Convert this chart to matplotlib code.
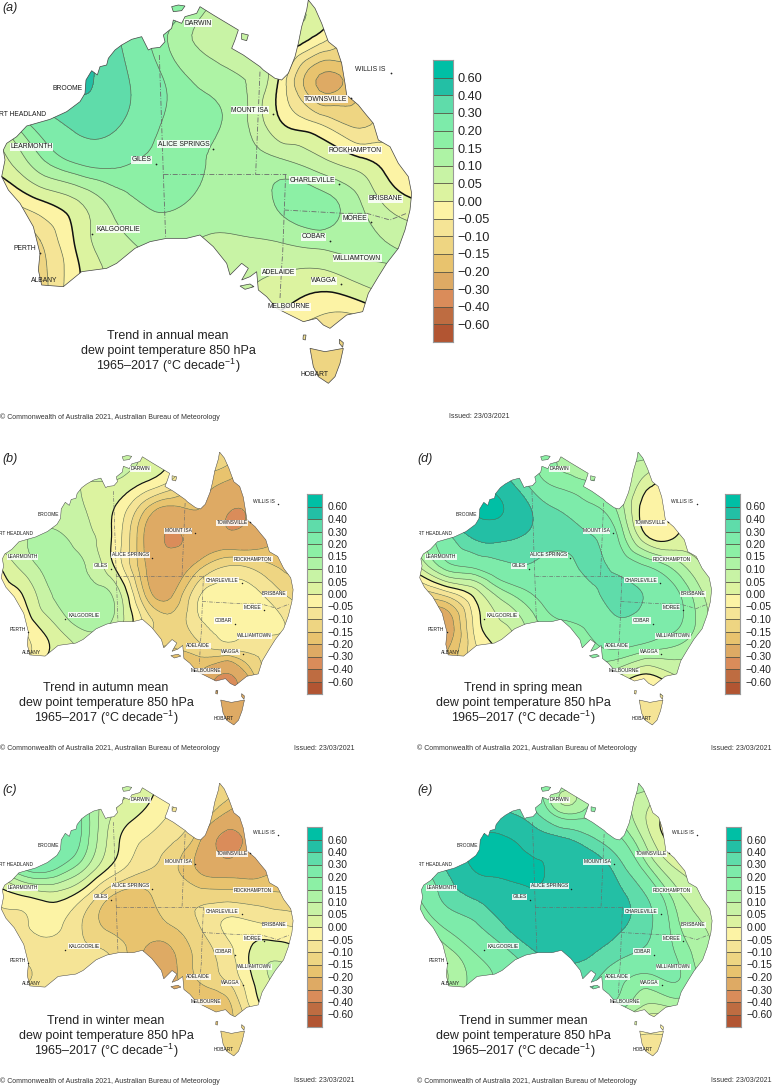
import numpy as np
import matplotlib
matplotlib.use('Agg')
import matplotlib.pyplot as plt
import matplotlib.tri as mtri
from matplotlib.path import Path
from matplotlib.patches import PathPatch

plt.rcParams['font.family'] = ['Liberation Sans', 'DejaVu Sans']
plt.rcParams['mathtext.fontset'] = 'custom'
plt.rcParams['mathtext.rm'] = 'Liberation Sans'
plt.rcParams['mathtext.default'] = 'regular'

W, H = 772, 1085

# colour classes, bottom to top
levels = [-9, -0.60, -0.40, -0.30, -0.20, -0.15, -0.10, -0.05, 0.00,
          0.05, 0.10, 0.15, 0.20, 0.30, 0.40, 0.60, 9]
colours = ['#B25532', '#BE6C41', '#DA8C5A', '#DEAA64', '#E8C36E', '#EED582',
           '#F5E496', '#FCF3A5', '#DCF3A0', '#C8F3A5', '#AEF3A5', '#8CF0A5',
           '#7DEBAA', '#5FDCAA', '#23BFA5', '#00BFA5']
tick_labels = ['\u22120.60', '\u22120.40', '\u22120.30', '\u22120.20', '\u22120.15',
               '\u22120.10', '\u22120.05', '0.00', '0.05', '0.10', '0.15', '0.20',
               '0.30', '0.40', '0.60']

# trend grid positions, map units
grid_x = np.arange(0, 441, 40)
grid_y = np.arange(0, 401, 40)

annual = [
    [.20, .25, .30, .30, .25, .12, .11, .08, .02, -.03, -.05, -.05],
    [.25, .30, .38, .30, .17, .09, .07, .05, -.03, -.12, -.10, -.10],
    [.30, .38, .42, .33, .21, .14, .105, -.01, -.21, -.14, -.05, -.03],
    [.12, .25, .34, .31, .205, .16, .12, .00, -.07, -.12, -.05, -.05],
    [.03, .14, .22, .22, .18, .155, .12, .105, .06, .01, -.04, -.05],
    [-.06, .00, .055, .13, .16, .14, .12, .16, .17, .10, .015, .00],
    [-.12, -.10, .02, .09, .12, .098, .095, .105, .125, .115, .09, .07],
    [-.15, -.12, .00, .07, .10, .08, .06, .04, .025, .06, .09, .10],
    [-.15, -.12, .00, .05, .08, .05, .02, -.02, -.06, -.06, .00, .00],
    [-.10, -.10, -.10, -.10, -.10, -.10, -.10, -.12, -.13, -.13, -.12, -.10],
    [-.10, -.10, -.10, -.10, -.10, -.10, -.10, -.12, -.13, -.13, -.12, -.10],
]
autumn = [
    [.03, .03, .03, .05, .07, .04, .00, -.05, -.12, -.15, -.15, -.15],
    [.05, .05, .06, .05, .05, .01, -.05, -.15, -.20, -.25, -.25, -.20],
    [.08, .08, .07, .05, .00, -.13, -.22, -.20, -.29, -.28, -.25, -.20],
    [.08, .10, .11, .07, -.01, -.19, -.31, -.26, -.27, -.25, -.20, -.18],
    [.00, .08, .12, .10, .00, -.18, -.26, -.17, -.10, -.12, -.16, -.15],
    [-.03, .02, .11, .12, .09, -.13, -.21, -.055, -.03, -.04, -.10, -.12],
    [-.10, -.02, .06, .12, .09, -.05, -.13, -.06, -.035, -.03, -.05, -.10],
    [-.10, -.06, .02, .06, .05, -.10, -.16, -.13, -.11, -.09, -.08, -.08],
    [-.10, -.06, .00, .02, -.05, -.15, -.20, -.22, -.33, -.15, -.10, -.10],
    [-.20, -.20, -.20, -.20, -.20, -.20, -.25, -.25, -.25, -.25, -.20, -.20],
    [-.20, -.20, -.20, -.20, -.20, -.20, -.25, -.25, -.25, -.25, -.20, -.20],
]
winter = [
    [.10, .10, .10, .10, .08, .03, -.03, -.10, -.12, -.15, -.15, -.15],
    [.20, .25, .30, .17, .05, .00, -.05, -.10, -.20, -.25, -.22, -.20],
    [.25, .30, .30, .17, .02, -.05, -.09, -.19, -.33, -.25, -.25, -.20],
    [.10, .22, .20, .10, -.02, -.09, -.13, -.21, -.25, -.23, -.20, -.18],
    [-.03, .00, .02, -.05, -.16, -.17, -.12, -.12, -.12, -.13, -.14, -.15],
    [-.07, -.05, -.04, -.11, -.17, -.18, -.15, -.10, -.04, -.04, -.05, -.08],
    [-.10, -.09, -.08, -.09, -.11, -.20, -.21, -.13, -.07, .02, .03, .00],
    [-.10, -.10, -.09, -.09, -.10, -.20, -.22, -.15, -.10, .01, .06, .03],
    [-.10, -.10, -.10, -.10, -.10, -.15, -.20, -.19, -.17, -.03, -.02, .00],
    [-.12, -.12, -.12, -.12, -.12, -.12, -.12, -.12, -.12, -.12, -.12, -.12],
    [-.12, -.12, -.12, -.12, -.12, -.12, -.12, -.12, -.12, -.12, -.12, -.12],
]
spring = [
    [.25, .30, .35, .40, .25, .15, .12, .10, .13, .08, .05, .05],
    [.30, .35, .50, .45, .25, .17, .15, .13, .03, .00, .03, .05],
    [.25, .40, .62, .60, .39, .29, .22, .14, -.03, .00, .03, .05],
    [.15, .27, .42, .43, .37, .33, .31, .20, .01, .00, .02, .05],
    [.05, .18, .22, .28, .29, .27, .32, .27, .20, .13, .05, .05],
    [-.13, -.08, .02, .13, .20, .25, .27, .34, .29, .22, .10, .05],
    [-.20, -.24, -.03, .05, .13, .19, .22, .28, .26, .22, .12, .05],
    [-.20, -.20, -.06, .02, .10, .12, .17, .19, .15, .13, .09, .05],
    [-.15, -.15, -.06, .02, .05, .07, .07, .03, -.03, .03, .03, .03],
    [-.08, -.08, -.08, -.08, -.08, -.08, -.08, -.08, -.08, -.08, -.08, -.08],
    [-.08, -.08, -.08, -.08, -.08, -.08, -.08, -.08, -.12, -.08, -.08, -.08],
]
summer = [
    [.40, .40, .40, .40, .25, .13, .13, .12, .14, .05, .05, .05],
    [.40, .45, .50, .41, .32, .14, .17, .14, .05, -.02, .00, .03],
    [.50, .55, .61, .63, .50, .43, .33, .22, .08, -.02, .00, .03],
    [.30, .42, .62, .65, .63, .55, .50, .35, .17, .05, .03, .05],
    [.20, .33, .42, .52, .57, .53, .50, .43, .30, .13, .07, .05],
    [.12, .22, .29, .40, .50, .50, .48, .42, .33, .17, .10, .05],
    [.08, .13, .20, .27, .38, .44, .41, .33, .27, .20, .12, .07],
    [.05, .10, .17, .22, .30, .35, .32, .22, .17, .20, .13, .08],
    [.05, .08, .10, .15, .20, .25, .20, .15, .07, .08, .08, .08],
    [-.07, -.07, -.07, -.07, -.07, -.07, -.07, -.07, -.07, -.07, -.07, -.07],
    [-.08, -.08, -.08, -.08, -.08, -.08, -.08, -.08, -.08, -.08, -.08, -.08],
]

# coast, 1/3 map units
mainland = [
    (150, 358), (200, 335), (240, 305), (255, 280), (258, 240), (275, 212), (292, 225), (300, 200),
    (320, 195), (325, 175), (345, 150), (365, 135), (395, 118), (425, 110), (445, 150), (455, 145),
    (480, 142), (495, 125), (490, 105), (515, 85), (520, 60), (545, 70), (555, 50), (590, 40),
    (600, 20), (640, 45), (665, 60), (690, 75), (715, 90), (705, 120), (695, 145), (730, 165),
    (780, 200), (790, 210), (825, 235), (845, 240), (865, 220), (885, 170), (895, 130), (905, 80),
    (920, 30), (925, 0), (945, 25), (965, 70), (985, 125), (1010, 145), (1025, 190), (1035, 250),
    (1040, 285), (1075, 315), (1095, 340), (1120, 370), (1135, 420), (1170, 440), (1195, 490),
    (1225, 530), (1235, 580), (1230, 630), (1215, 690), (1195, 745), (1160, 790), (1135, 830),
    (1105, 880), (1088, 935), (1040, 945), (990, 985), (970, 975), (950, 955), (910, 965),
    (880, 950), (830, 925), (800, 890), (775, 870), (770, 815), (750, 830), (725, 840), (745, 805),
    (725, 790), (690, 825), (680, 790), (640, 740), (600, 705), (560, 715), (500, 715), (450, 725),
    (405, 745), (350, 790), (320, 805), (245, 815), (190, 860), (125, 855), (115, 810), (120, 760),
    (100, 680), (60, 610), (25, 570), (5, 530), (15, 480), (10, 450), (20, 430), (50, 410), (80, 378),
]
tasmania = [(930, 1045), (975, 1055), (1030, 1045), (1020, 1090), (1005, 1130), (985, 1150), (955, 1130), (940, 1100)]
islands = [
    [(515, 20), (535, 15), (555, 18), (545, 32), (520, 35)],
    [(725, 100), (745, 105), (740, 122), (725, 118)],
    [(720, 858), (750, 852), (762, 860), (735, 868)],
    [(910, 1005), (918, 1005), (916, 1020), (909, 1018)],
    [(1018, 1018), (1030, 1028), (1028, 1042), (1018, 1030)],
]

# state borders, 1/3 map units
borders = [
    [(478, 165), (490, 522), (497, 715)],
    [(490, 522), (857, 522)],
    [(780, 215), (767, 522)],
    [(857, 522), (848, 760), (845, 800), (840, 895)],
    [(852, 630), (1030, 640), (1100, 640), (1170, 660), (1220, 640)],
]

cities = ['DARWIN', 'BROOME', 'RT HEADLAND', 'MOUNT ISA', 'TOWNSVILLE', 'LEARMONTH', 'ALICE SPRINGS',
          'GILES', 'ROCKHAMPTON', 'CHARLEVILLE', 'BRISBANE', 'MOREE', 'KALGOORLIE', 'COBAR',
          'WILLIAMTOWN', 'PERTH', 'ADELAIDE', 'WAGGA', 'ALBANY', 'MELBOURNE', 'HOBART', 'WILLIS IS']
city_x = [593, 202, 68, 750, 978, 95, 550, 424, 1066, 936, 1156, 1064, 354, 940, 1072, 73, 835, 972, 133, 866, 942, 1112]
city_y = [70, 264, 344, 331, 298, 441, 433, 479, 451, 540, 597, 655, 688, 710, 775, 747, 817, 842, 843, 921, 1124, 208]
dot_x = [1172, 1052, 820, 640, 467, 1018, 1113, 990, 275, 120, 1023]
dot_y = [220, 293, 343, 446, 492, 552, 667, 723, 703, 760, 853]

footer = '\u00a9 Commonwealth of Australia 2021, Australian Bureau of Meteorology'
issued = 'Issued: 23/03/2021'


def px_rect(left, top, width, height):
    return [left / W, 1 - (top + height) / H, width / W, height / H]


def fig_text(x, y, s, **kw):
    return fig.text(x / W, 1 - y / H, s, **kw)


def coast_path():
    polys = [mainland, tasmania] + islands
    paths = []
    for p in polys:
        pts = np.array(p + [p[0]], dtype=float) / 3
        paths.append(Path(pts, closed=True))
    return Path.make_compound_path(*paths)


def draw_map(left, top, scale, values, name_size):
    ax = fig.add_axes(px_rect(left, top, 420 * scale, 400 * scale))
    ax.set_xlim(0, 420)
    ax.set_ylim(400, 0)
    ax.axis('off')
    ax.patch.set_alpha(0)

    xx, yy = np.meshgrid(grid_x, grid_y)
    tri = mtri.Triangulation(xx.ravel(), yy.ravel())
    refiner = mtri.UniformTriRefiner(tri)
    tri_f, z_f = refiner.refine_field(np.array(values).ravel(), subdiv=3)

    coast = PathPatch(coast_path(), transform=ax.transData, fc='none', ec='#444444',
                      lw=0.5 if scale == 1 else 0.35, zorder=5)
    ax.add_patch(coast)
    filled = ax.tricontourf(tri_f, z_f, levels=levels, colors=colours, zorder=1)
    filled.set_clip_path(coast)
    lines = ax.tricontour(tri_f, z_f, levels=[v for v in levels[1:-1] if v != 0],
                          colors='#5f6a52', linestyles='solid',
                          linewidths=0.5 if scale == 1 else 0.4, zorder=2)
    lines.set_clip_path(coast)
    zero = ax.tricontour(tri_f, z_f, levels=[0], colors='#111111', linestyles='solid',
                         linewidths=1.1 if scale == 1 else 0.85, zorder=3)
    zero.set_clip_path(coast)

    for b in borders:
        pts = np.array(b) / 3
        ax.plot(pts[:, 0], pts[:, 1], color='#6b6b6b', lw=0.6 if scale == 1 else 0.45,
                ls=(0, (6, 2, 1, 2)), zorder=4)
    ax.scatter(np.array(dot_x) / 3, np.array(dot_y) / 3, s=1.6 * scale, color='#222222', lw=0, zorder=6)

    for name, cx, cy in zip(cities, city_x, city_y):
        has_box = name not in ('WILLIS IS', 'PERTH', 'BROOME', 'ALBANY', 'HOBART')
        kw = {}
        if has_box:
            kw['bbox'] = dict(fc='white', ec='none', pad=0.4, alpha=0.85)
        ax.text(cx / 3, cy / 3, name, fontsize=name_size, ha='center', va='center',
                color='#1a1a1a', zorder=7, clip_on=True, **kw)


def draw_colourbar(left, top, width, height, size, pad):
    ax = fig.add_axes(px_rect(left, top, width, height))
    n = len(colours)
    for i, c in enumerate(colours):
        ax.bar(0.5, 1, width=1, bottom=i, color=c, edgecolor='none')
    ax.hlines(range(1, n), 0, 1, color='#555544', lw=0.6)
    ax.set_xlim(0, 1)
    ax.set_ylim(0, n)
    ax.set_xticks([])
    ax.set_yticks(range(1, n))
    ax.set_yticklabels(tick_labels, fontsize=size, color='#222222', ha='left')
    ax.yaxis.tick_right()
    ax.tick_params(axis='y', length=0, pad=pad)
    for s in ax.spines.values():
        s.set_color('#999999')
        s.set_linewidth(0.8)


def draw_title(cx, y0, step, season, size):
    rows = ['Trend in %s mean' % season, 'dew point temperature 850 hPa',
            '1965\u20132017 (\u00b0C decade$^{\u22121}$)']
    for i, r in enumerate(rows):
        fig_text(cx, y0 + i * step, r, fontsize=size, ha='center', va='center', color='#222222')


fig = plt.figure(figsize=(W / 100, H / 100), dpi=100)

s = 0.712
panels = [
    ('(a)', 2, 8, 0, 0, 1.0, annual, 4.9),
    ('(b)', 2, 459, 0, 452, s, autumn, 3.5),
    ('(d)', 417, 459, 418.5, 452, s, spring, 3.5),
    ('(c)', 2, 790, 0, 783, s, winter, 3.5),
    ('(e)', 417, 790, 419, 783, s, summer, 3.5),
]
for label, lx, ly, left, top, scale, values, name_size in panels:
    draw_map(left, top, scale, values, name_size)
    fig_text(lx, ly, label, fontsize=9, style='italic', ha='left', va='center', color='#222222')

draw_colourbar(432.5, 60, 20.5, 282, 9.2, 3.5)
draw_colourbar(307, 494, 15, 200, 7.4, 4)
draw_colourbar(725, 494, 15, 200, 7.4, 4)
draw_colourbar(307, 827, 15, 200, 7.4, 4)
draw_colourbar(726, 827, 15, 200, 7.4, 4)

draw_title(168, 336, 15, 'annual', 9)
draw_title(106, 688, 15, 'autumn', 9)
draw_title(523, 688, 15, 'spring', 9)
draw_title(106, 1021, 15, 'winter', 9)
draw_title(523, 1021, 15, 'summer', 9)

foot_size = 5.0
for fx, fy, ix in [(0, 417, 449), (0, 748, 294), (417, 748, 711), (0, 1081, 294), (417, 1081, 711)]:
    fig_text(fx, fy, footer, fontsize=foot_size, ha='left', va='center', color='#333333')
    fig_text(ix, fy, issued, fontsize=foot_size, ha='left', va='center', color='#333333')

fig.savefig('out.png', dpi=100)
plt.close(fig)
